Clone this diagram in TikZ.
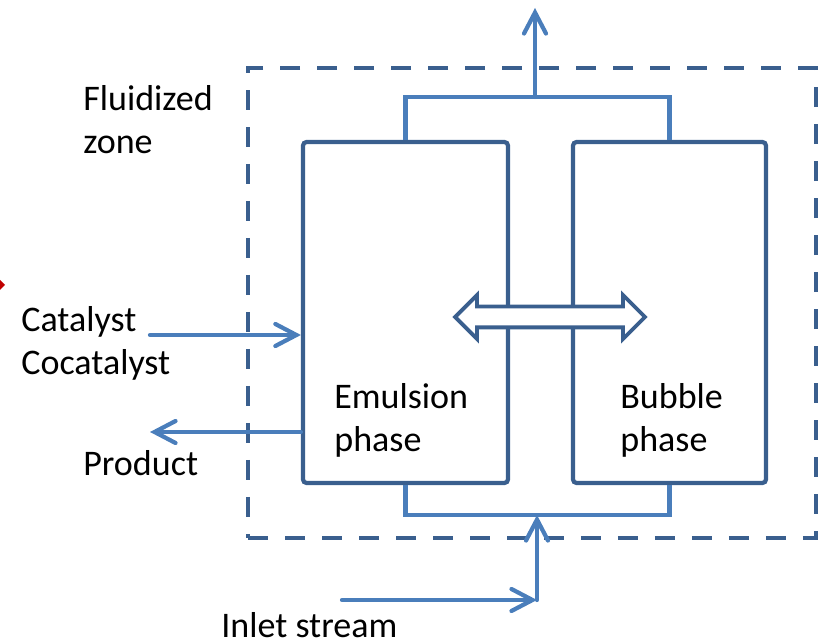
\documentclass[tikz,border=0pt]{standalone}
\usepackage{fontspec}
\setmainfont{Carlito}
\usetikzlibrary{arrows.meta,shapes.arrows,positioning,calc}
\definecolor{fzdark}{HTML}{3A5F8E}
\definecolor{fzlight}{HTML}{4A7EBB}
\definecolor{fzmark}{HTML}{C00000}
\tikzset{
  vessel/.style   = {rectangle, rounded corners=2pt, draw=fzdark, line width=2.4pt,
                     minimum height=6.82cm, inner sep=0pt},
  zonebox/.style  = {rectangle, draw=fzdark, line width=2.4pt,
                     dash pattern=on 0.4cm off 0.34cm, minimum width=11.36cm,
                     minimum height=9.4cm},
  pipe/.style     = {draw=fzlight, line width=2.4pt},
  flow/.style     = {pipe, line cap=round,
                     -{Straight Barb[length=0.42cm, width=0.44cm, line cap=round]}},
  exchange/.style = {double arrow, draw=fzdark, fill=white, line width=2.2pt,
                     minimum height=3.8cm, inner xsep=0pt, inner ysep=0.17cm,
                     double arrow head extend=0.23cm},
  lbl/.style      = {font=\fontsize{20.5}{25}\selectfont, align=left, inner sep=0pt,
                     anchor=base west},
}

\begin{document}
\begin{tikzpicture}[x=0.02cm, y=-0.02cm]
\useasboundingbox (0,0) rectangle (821,644);

% reactor
\node[zonebox] (zone) at (532,303) {};
\node[vessel, minimum width=4.1cm] (emul) at (405.5,312.5) {};
\node[vessel, minimum width=3.86cm] (bubble) at (669.5,312.5) {};
\coordinate (exchc) at (550,317);
\begin{scope}[x=1cm, y=1cm]
  \node[exchange] (exch) at (exchc) {};
\end{scope}

% labels (base = last line)
\node[lbl] (zonelbl) at (83,154) {Fluidized\\zone};
\node[lbl] (catlbl) at (21,375) {Catalyst\\Cocatalyst};
\node[lbl] (prodlbl) at (83,476) {Product};
\node[lbl] (emullbl) at (334,452) {Emulsion\\phase};
\node[lbl] (bubblbl) at (620,452) {Bubble\\phase};
\node[lbl] (inlbl) at (221,637) {Inlet stream};

% connection points
\coordinate (topbus) at (535,97);
\coordinate (outlet) at (535,8);
\coordinate (botbus) at (537,515);
\coordinate (inlet) at (342,600);
\coordinate (bend) at (537,600);
\coordinate (catin) at (150,335);
\coordinate (prodout) at (150,432);

\draw[pipe] (emul.north) |- (topbus) -| (bubble.north);
\draw[flow] (topbus) -- (outlet);
\draw[pipe] (emul.south) |- (botbus) -| (bubble.south);
\draw[flow] (inlet) -- (bend);
\draw[flow] (bend) -- (botbus);
\draw[flow] (catin) -- (emul.west |- catin);
\draw[flow] (emul.west |- prodout) -- (prodout);

% marker cut by the page edge
\fill[fzmark] (-9,285) -- (-2,278) -- (5,285) -- (-2,292) -- cycle;

\end{tikzpicture}
\end{document}
